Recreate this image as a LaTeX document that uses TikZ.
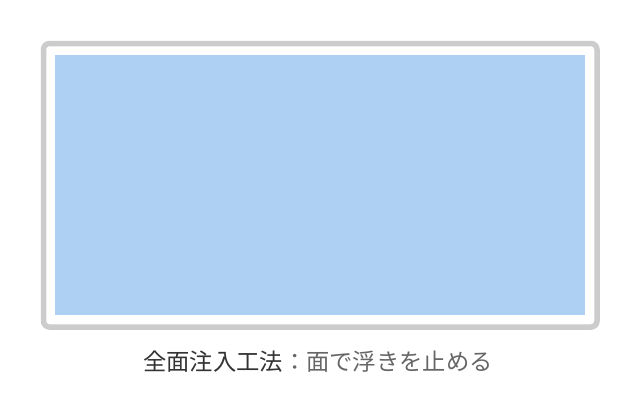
\documentclass[tikz,border=0pt]{standalone}
\usepackage{fontspec}
\newfontfamily\cjk{Noto Sans CJK JP}
\definecolor{frame}{HTML}{CCCCCC}
\definecolor{fill}{HTML}{AED1F3}
\definecolor{dark}{HTML}{333333}
\definecolor{mid}{HTML}{666666}
\begin{document}
\begin{tikzpicture}[x=1pt,y=-1pt,
  framebox/.style={draw=frame,line width=5.5pt,rounded corners=6pt},
  panel/.style={fill=fill,draw=none},
  caption/.style={font=\cjk\fontsize{23.3}{26}\selectfont,inner sep=0pt}]
\useasboundingbox (0,0) rectangle (640,400);
\fill[white] (0,0) rectangle (640,400);
\draw[framebox] (43.5,43.5) rectangle (597,327);
\fill[panel] (55,55) rectangle (585,315);
\node[caption,anchor=center] (cap) at (318,362) {\textcolor{dark}{全面注入工法}\textcolor{mid}{：面で浮きを止める}};
\end{tikzpicture}
\end{document}
